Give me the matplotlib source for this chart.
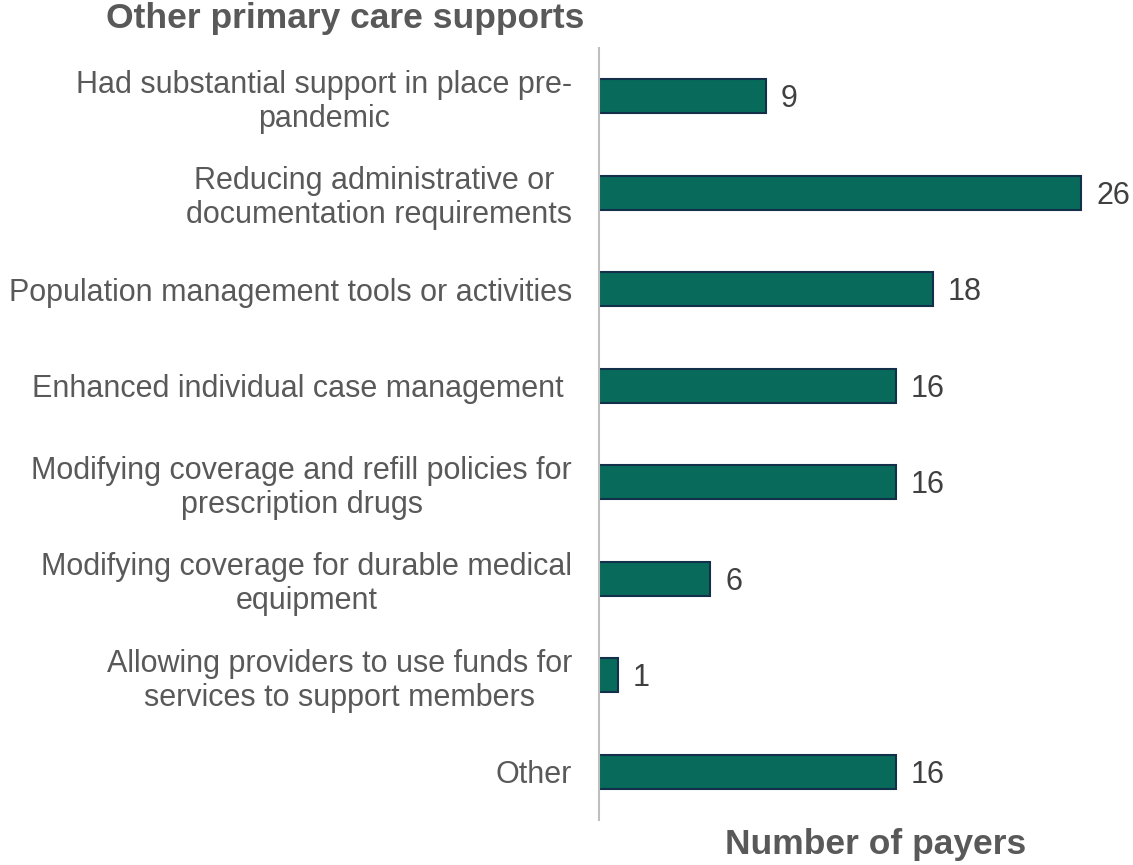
import matplotlib
matplotlib.use("Agg")
import matplotlib.pyplot as plt

plt.rcParams['font.family'] = ['Liberation Sans', 'DejaVu Sans']

# Payer counts per support type, top to bottom
categories = [
    "Had substantial support in place pre-\npandemic",
    "Reducing administrative or \ndocumentation requirements",
    "Population management tools or activities",
    "Enhanced individual case management ",
    "Modifying coverage and refill policies for\nprescription drugs",
    "Modifying coverage for durable medical\nequipment",
    "Allowing providers to use funds for\nservices to support members",
    "Other",
]
payers = [9, 26, 18, 16, 16, 6, 1, 16]

bar_color = "#076a5a"
edge_color = "#12304a"
text_color = "#595959"

fig = plt.figure(figsize=(11.33, 8.65), dpi=100)
ax = fig.add_axes([0.5287, 0.052, 0.4583, 0.8925])

pos = list(range(len(categories)))
ax.barh(pos, payers, height=0.35, color=bar_color, edgecolor=edge_color, linewidth=1.5)
ax.set_ylim(len(categories) - 0.5, -0.5)
ax.set_xlim(0, 28)

for y, v in zip(pos, payers):
    ax.text(v + 0.8, y + 0.03, str(v), va="center", ha="left", fontsize=22, color="#404040")

ax.set_yticks(pos)
ax.set_yticklabels(categories, fontsize=22, color=text_color, ha="right",
                   multialignment="center", linespacing=1.17)
ax.tick_params(axis="y", length=0, pad=19.5)
ax.set_xticks([])

for s in ["top", "right", "bottom"]:
    ax.spines[s].set_visible(False)
ax.spines["left"].set_color("#bfbfbf")
ax.spines["left"].set_linewidth(1.5)

fig.text(0.305, 0.979, "Other primary care supports", ha="center", va="center",
         fontsize=25.5, fontweight="bold", color=text_color)
fig.text(0.773, 0.024, "Number of payers", ha="center", va="center",
         fontsize=25.5, fontweight="bold", color=text_color)

fig.savefig("out.png", dpi=100)
